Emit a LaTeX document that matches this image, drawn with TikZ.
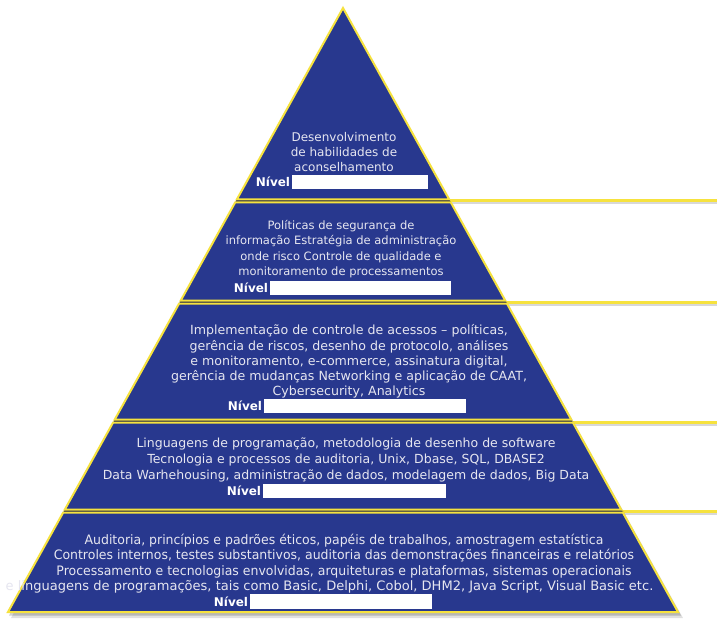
\documentclass[tikz,border=0pt]{standalone}
\usepackage{fontspec}
\setmainfont{DejaVu Sans}
\usetikzlibrary{calc}
\definecolor{pyrblue}{RGB}{40,56,142}
\definecolor{pyrdark}{RGB}{20,26,70}
\definecolor{pyryel}{RGB}{246,226,62}
\definecolor{txtgray}{RGB}{230,230,240}
\begin{document}
\begin{tikzpicture}[x=1pt,y=-1pt,
  bandfill/.style={fill=pyrblue, draw=pyryel, line width=2pt, line join=miter},
  sideline/.style={draw=pyryel, line width=3pt},
  sideshadow/.style={draw=black!30, line width=3pt, opacity=.5},
  bandtext/.style={text=txtgray, align=center, inner sep=0pt, font=\fontsize{11.5}{15.3}\selectfont},
  condtext/.style={text=txtgray, align=center, inner sep=0pt, font=\fontsize{13}{15.5}\selectfont, xscale=0.96, transform shape},
  nivel/.style={text=white, inner sep=1.5pt, font=\bfseries\fontsize{12}{14}\selectfont},
  nivbox/.style={fill=white, draw=none, inner sep=0pt}
]
\useasboundingbox (0,0) rectangle (727,628);
\fill[white] (0,0) rectangle (727,628);
\coordinate (A) at (343,8);
\coordinate (BL) at (8,612);
\coordinate (BR) at (678,612);

% right side lines
\coordinate (s1) at (450.05,201);
\coordinate (e1) at (717,201);
\coordinate (s2) at (506.06,302);
\coordinate (e2) at (717,302);
\coordinate (s3) at (572.62,422);
\coordinate (e3) at (717,422);
\coordinate (s4) at (621.98,511);
\coordinate (e4) at (717,511);
\draw[sideshadow] ($(s1)+(0,2)$) -- ($(e1)+(0,2)$);
\draw[sideshadow] ($(s2)+(0,2)$) -- ($(e2)+(0,2)$);
\draw[sideshadow] ($(s3)+(0,2)$) -- ($(e3)+(0,2)$);
\draw[sideshadow] ($(s4)+(0,2)$) -- ($(e4)+(0,2)$);
\draw[sideline] (s1) -- (e1);
\draw[sideline] (s2) -- (e2);
\draw[sideline] (s3) -- (e3);
\draw[sideline] (s4) -- (e4);

% shadow of pyramid
\fill[black, opacity=.12] ($(A)+(2,4)$) -- ($(BR)+(5,6)$) -- ($(BL)+(3,6)$) -- cycle;
\fill[black, opacity=.18] ($(A)+(1,2)$) -- ($(BR)+(3,3.5)$) -- ($(BL)+(1,3.5)$) -- cycle;
% dark background
\fill[pyrdark] (A) -- (BR) -- (BL) -- cycle;

% bands
\path[bandfill] (A) -- (449.21,199.5) -- (236.79,199.5) -- cycle;
\path[bandfill] (235.12,202.5) -- (450.88,202.5) -- (505.23,300.5) -- (180.77,300.5) -- cycle;
\path[bandfill] (179.11,303.5) -- (506.89,303.5) -- (571.23,419.5) -- (114.77,419.5) -- cycle;
\path[bandfill] (113.10,422.5) -- (572.90,422.5) -- (621.15,509.5) -- (64.85,509.5) -- cycle;
\path[bandfill] (63.19,512.5) -- (622.81,512.5) -- (BR) -- (BL) -- cycle;

% texts
\node[bandtext, font=\fontsize{12}{15.2}\selectfont] (t1) at (344,152)
  {Desenvolvimento\\de habilidades de\\aconselhamento};
\node[bandtext] (t2) at (341,249)
  {Políticas de segurança de\\informação Estratégia de administração\\onde risco Controle de qualidade e\\monitoramento de processamentos};
\node[bandtext, font=\fontsize{12.6}{15.2}\selectfont] (t3) at (349,361.5)
  {Implementação de controle de acessos – políticas,\\gerência de riscos, desenho de protocolo, análises\\e monitoramento, e-commerce, assinatura digital,\\gerência de mudanças Networking e aplicação de CAAT,\\Cybersecurity, Analytics};
\node[bandtext, font=\fontsize{12.5}{16}\selectfont] (t4) at (346,459.5)
  {Linguagens de programação, metodologia de desenho de software\\Tecnologia e processos de auditoria, Unix, Dbase, SQL, DBASE2\\Data Warhehousing, administração de dados, modelagem de dados, Big Data};
\node[condtext] (t5) at (344,556)
  {Auditoria, princípios e padrões éticos, papéis de trabalhos, amostragem estatística\\Controles internos, testes substantivos, auditoria das demonstrações financeiras e relatórios\\Processamento e tecnologias envolvidas, arquiteturas e plataformas, sistemas operacionais};
\node[condtext, xscale=1.045] (t5b) at (329.5,587)
  {e linguagens de programações, tais como Basic, Delphi, Cobol, DHM2, Java Script, Visual Basic etc.};

% Nivel boxes
\node[nivbox, minimum width=136pt, minimum height=14pt] (b1) at (360,182) {};
\node[nivel, anchor=east] (n1) at (b1.west) {Nível};
\node[nivbox, minimum width=181pt, minimum height=14pt] (b2) at (360.5,288) {};
\node[nivel, anchor=east] (n2) at (b2.west) {Nível};
\node[nivbox, minimum width=202pt, minimum height=14pt] (b3) at (365,406) {};
\node[nivel, anchor=east] (n3) at (b3.west) {Nível};
\node[nivbox, minimum width=183pt, minimum height=14pt] (b4) at (354.5,491) {};
\node[nivel, anchor=east] (n4) at (b4.west) {Nível};
\node[nivbox, minimum width=182pt, minimum height=15pt] (b5) at (341,601.5) {};
\node[nivel, anchor=east] (n5) at (b5.west) {Nível};
\end{tikzpicture}
\end{document}
